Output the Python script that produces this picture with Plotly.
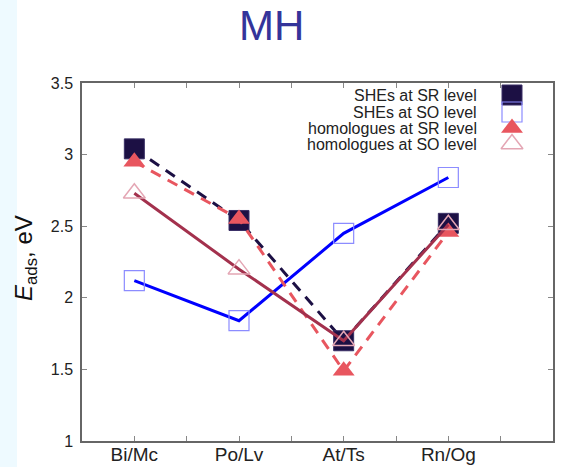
import plotly.graph_objects as go

# Adsorption energies of MH on the surface, eV
categories = ["Bi/Mc", "Po/Lv", "At/Ts", "Rn/Og"]
she_sr = [3.04, 2.54, 1.70, 2.52]
she_so = [2.12, 1.84, 2.45, 2.84]
hom_sr = [2.95, 2.55, 1.49, 2.46]
hom_so = [2.73, 2.20, 1.70, 2.51]
legend_labels = ["SHEs at SR level", "SHEs at SO level",
                 "homologues at SR level", "homologues at SO level"]
y_ticks = [1, 1.5, 2, 2.5, 3, 3.5]

x = list(range(1, len(categories) + 1))

NAVY = "#1c1044"
BLUE = "#0000ff"
LBLUE = "#8c8cff"
CORAL = "#e8565f"
PINK = "#e4a6b4"
BROWN = "#a3314d"
FONT = "Liberation Sans, Arial, Helvetica, sans-serif"

# plot area in pixels (for the left strip, title and key placement)
L, R, T, B = 82, 553, 83, 441
W, H = 576, 467

styles = [
    dict(y=she_sr, line=dict(color=NAVY, width=3, dash="11px,8px"),
         marker=dict(symbol="square", size=20, color=NAVY,
                     line=dict(color="#3a2f66", width=1))),
    dict(y=she_so, line=dict(color=BLUE, width=3),
         marker=dict(symbol="square-open", size=20, color=LBLUE,
                     line=dict(color=LBLUE, width=1.2))),
    dict(y=hom_sr, line=dict(color=CORAL, width=3, dash="11px,8px"),
         marker=dict(symbol="triangle-up", size=19, color=CORAL,
                     line=dict(color=CORAL, width=0))),
    dict(y=hom_so, line=dict(color=BROWN, width=3),
         marker=dict(symbol="triangle-up-open", size=19, color=PINK,
                     line=dict(color=PINK, width=1.5))),
]

fig = go.Figure()
for s, name in zip(styles, legend_labels):
    fig.add_trace(go.Scatter(x=x, y=s["y"], mode="lines+markers", name=name,
                             line=s["line"], marker=s["marker"],
                             showlegend=False))

# key: text right-aligned, symbol on the right
key_rows = [95, 112, 128, 144]
key_x = 512
for s, name, yy in zip(styles, legend_labels, key_rows):
    m = dict(s["marker"])
    fig.add_trace(go.Scatter(x=[key_x], y=[yy], mode="markers", marker=m,
                             xaxis="x2", yaxis="y2", showlegend=False,
                             hoverinfo="skip"))
    fig.add_annotation(x=479, y=yy, xref="x2", yref="y2", text=name,
                       showarrow=False, xanchor="right", yanchor="middle",
                       font=dict(family=FONT, size=16, color="#222222"))

axis_common = dict(showline=True, linecolor="#666666", linewidth=1.5,
                   mirror="ticks", ticks="inside", ticklen=5, tickwidth=1,
                   tickcolor="#888888", showgrid=False, zeroline=False,
                   automargin=False)
minor_ticks = dict(ticks="inside", ticklen=5, tickwidth=1,
                   tickcolor="#888888", dtick=0.5, showgrid=False)
hidden_axis = dict(visible=False, showticklabels=False, showgrid=False,
                   zeroline=False, fixedrange=True)

fig.update_layout(
    width=W, height=H,
    margin=dict(l=L, r=W - R, t=T, b=H - B),
    paper_bgcolor="white", plot_bgcolor="white",
    font=dict(family=FONT, color="#222222"),
    xaxis=dict(range=[0.5, 5], tickvals=x, ticktext=categories,
               tickfont=dict(size=19, color="#222222"),
               ticklabelstandoff=-5,
               minor=dict(tick0=0.5, **minor_ticks), **axis_common),
    yaxis=dict(range=[1, 3.5], tickvals=y_ticks,
               ticktext=[f"{v:g}" for v in y_ticks],
               tickfont=dict(size=16, color="#222222"),
               ticklabelstandoff=4,
               **axis_common),
    xaxis2=dict(range=[L, R], overlaying="x", **hidden_axis),
    yaxis2=dict(range=[B, T], overlaying="y", **hidden_axis),
)

# pale strip along the left edge
fig.add_shape(type="rect", xref="paper", yref="paper",
              x0=(0 - L) / (R - L), x1=(17 - L) / (R - L),
              y0=(B - H) / (B - T), y1=B / (B - T),
              fillcolor="#eefaff", line=dict(width=0), layer="below")

# title
fig.add_annotation(x=(271 - L) / (R - L), y=(B - 26) / (B - T),
                   xref="paper", yref="paper", text="MH", showarrow=False,
                   xanchor="center", yanchor="middle",
                   font=dict(family=FONT, size=42, color="#34349a"))

# y-axis title
fig.add_annotation(x=(25 - L) / (R - L), y=(B - 258) / (B - T),
                   xref="paper", yref="paper",
                   text="<i>E</i><sub>ads</sub>, eV", showarrow=False,
                   textangle=-90, xanchor="center", yanchor="middle",
                   font=dict(family=FONT, size=24, color="#111111"))

fig.write_html("out.html")
